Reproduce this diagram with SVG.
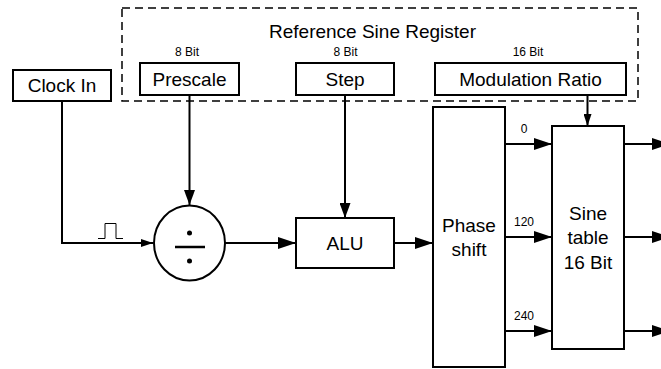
<svg xmlns="http://www.w3.org/2000/svg" width="661" height="369" viewBox="0 0 661 369">
<style>
  .box { fill: #fff; stroke: #000; stroke-width: 2; }
  .lbl { font-family: "Liberation Sans", Arial, sans-serif; font-size: 19px; text-anchor: middle; fill: #000; }
  .sm { font-family: "Liberation Sans", Arial, sans-serif; font-size: 12px; text-anchor: middle; fill: #000; }
  .ttl { font-family: "Liberation Sans", Arial, sans-serif; font-size: 19px; text-anchor: middle; fill: #000; }
  .wire { fill: none; stroke: #000; stroke-width: 2; }
</style>
<defs>
  <marker id="big" markerUnits="userSpaceOnUse" markerWidth="18" markerHeight="12" refX="18" refY="6" orient="auto">
    <path d="M0,0 L18,6 L0,12 Z" fill="#000"/>
  </marker>
  <marker id="small" markerUnits="userSpaceOnUse" markerWidth="12" markerHeight="8" refX="12" refY="4" orient="auto">
    <path d="M0,0 L12,4 L0,8 Z" fill="#000"/>
  </marker>
  <marker id="mid" markerUnits="userSpaceOnUse" markerWidth="15" markerHeight="11" refX="15" refY="5.5" orient="auto">
    <path d="M0,0 L15,5.5 L0,11 Z" fill="#000"/>
  </marker>
</defs>
<rect width="661" height="369" fill="#fff"/>

<g id="register">
  <rect x="122" y="8" width="516" height="93" fill="none" stroke="#000" stroke-width="1.5" stroke-dasharray="8,5"/>
  <text class="ttl" x="372.5" y="37.5">Reference Sine Register</text>
</g>

<g id="connectors">
  <path class="wire" d="M62,101 V243 H153" marker-end="url(#small)"/>
  <path d="M98,238.5 H105 V223.5 H116 V238.5 H123" fill="none" stroke="#000" stroke-width="1"/>
  <path class="wire" d="M189.5,95 V205" marker-end="url(#mid)"/>
  <path class="wire" d="M225,243 H296" marker-end="url(#big)"/>
  <path class="wire" d="M345,95 V218" marker-end="url(#mid)"/>
  <path class="wire" d="M394,243 H433" marker-end="url(#big)"/>
  <path class="wire" d="M587.5,95 V126" marker-end="url(#small)"/>
  <path class="wire" d="M505,144 H552" marker-end="url(#big)"/>
  <path class="wire" d="M505,237 H552" marker-end="url(#big)"/>
  <path class="wire" d="M505,331 H552" marker-end="url(#big)"/>
  <path class="wire" d="M624,144 H670" marker-end="url(#big)"/>
  <path class="wire" d="M624,237 H670" marker-end="url(#big)"/>
  <path class="wire" d="M624,331 H670" marker-end="url(#big)"/>
</g>

<g id="clock">
  <rect class="box" x="13" y="70" width="98" height="31"/>
  <text class="lbl" x="62" y="92">Clock In</text>
</g>

<g id="prescale">
  <text class="sm" x="187" y="56">8 Bit</text>
  <rect class="box" x="140" y="63" width="99" height="32"/>
  <text class="lbl" x="189.5" y="85.5">Prescale</text>
</g>

<g id="step">
  <text class="sm" x="345.5" y="56">8 Bit</text>
  <rect class="box" x="296" y="63" width="98" height="32"/>
  <text class="lbl" x="345" y="85.5">Step</text>
</g>

<g id="modratio">
  <text class="sm" x="528" y="56">16 Bit</text>
  <rect class="box" x="435" y="63" width="191" height="32"/>
  <text class="lbl" x="530.5" y="85.5">Modulation Ratio</text>
</g>

<g id="divider">
  <ellipse class="box" cx="189.5" cy="243" rx="35.5" ry="37.5"/>
  <line x1="175" y1="247" x2="205" y2="247" stroke="#000" stroke-width="2.5"/>
  <circle cx="189.5" cy="233" r="2.5" fill="#000"/>
  <circle cx="189.5" cy="261" r="2.5" fill="#000"/>
</g>

<g id="alu">
  <rect class="box" x="296" y="218" width="98" height="50"/>
  <text class="lbl" x="345" y="250">ALU</text>
</g>

<g id="phaseshift">
  <rect class="box" x="433" y="107" width="72" height="260"/>
  <text class="lbl" x="469" y="231.5">Phase</text>
  <text class="lbl" x="469" y="256">shift</text>
  <text class="sm" x="524" y="133">0</text>
  <text class="sm" x="524" y="226">120</text>
  <text class="sm" x="524" y="320">240</text>
</g>

<g id="sinetable">
  <rect class="box" x="552" y="126" width="72" height="223"/>
  <text class="lbl" x="588" y="219.5">Sine</text>
  <text class="lbl" x="588" y="244">table</text>
  <text class="lbl" x="588" y="268.5">16 Bit</text>
</g>
</svg>
